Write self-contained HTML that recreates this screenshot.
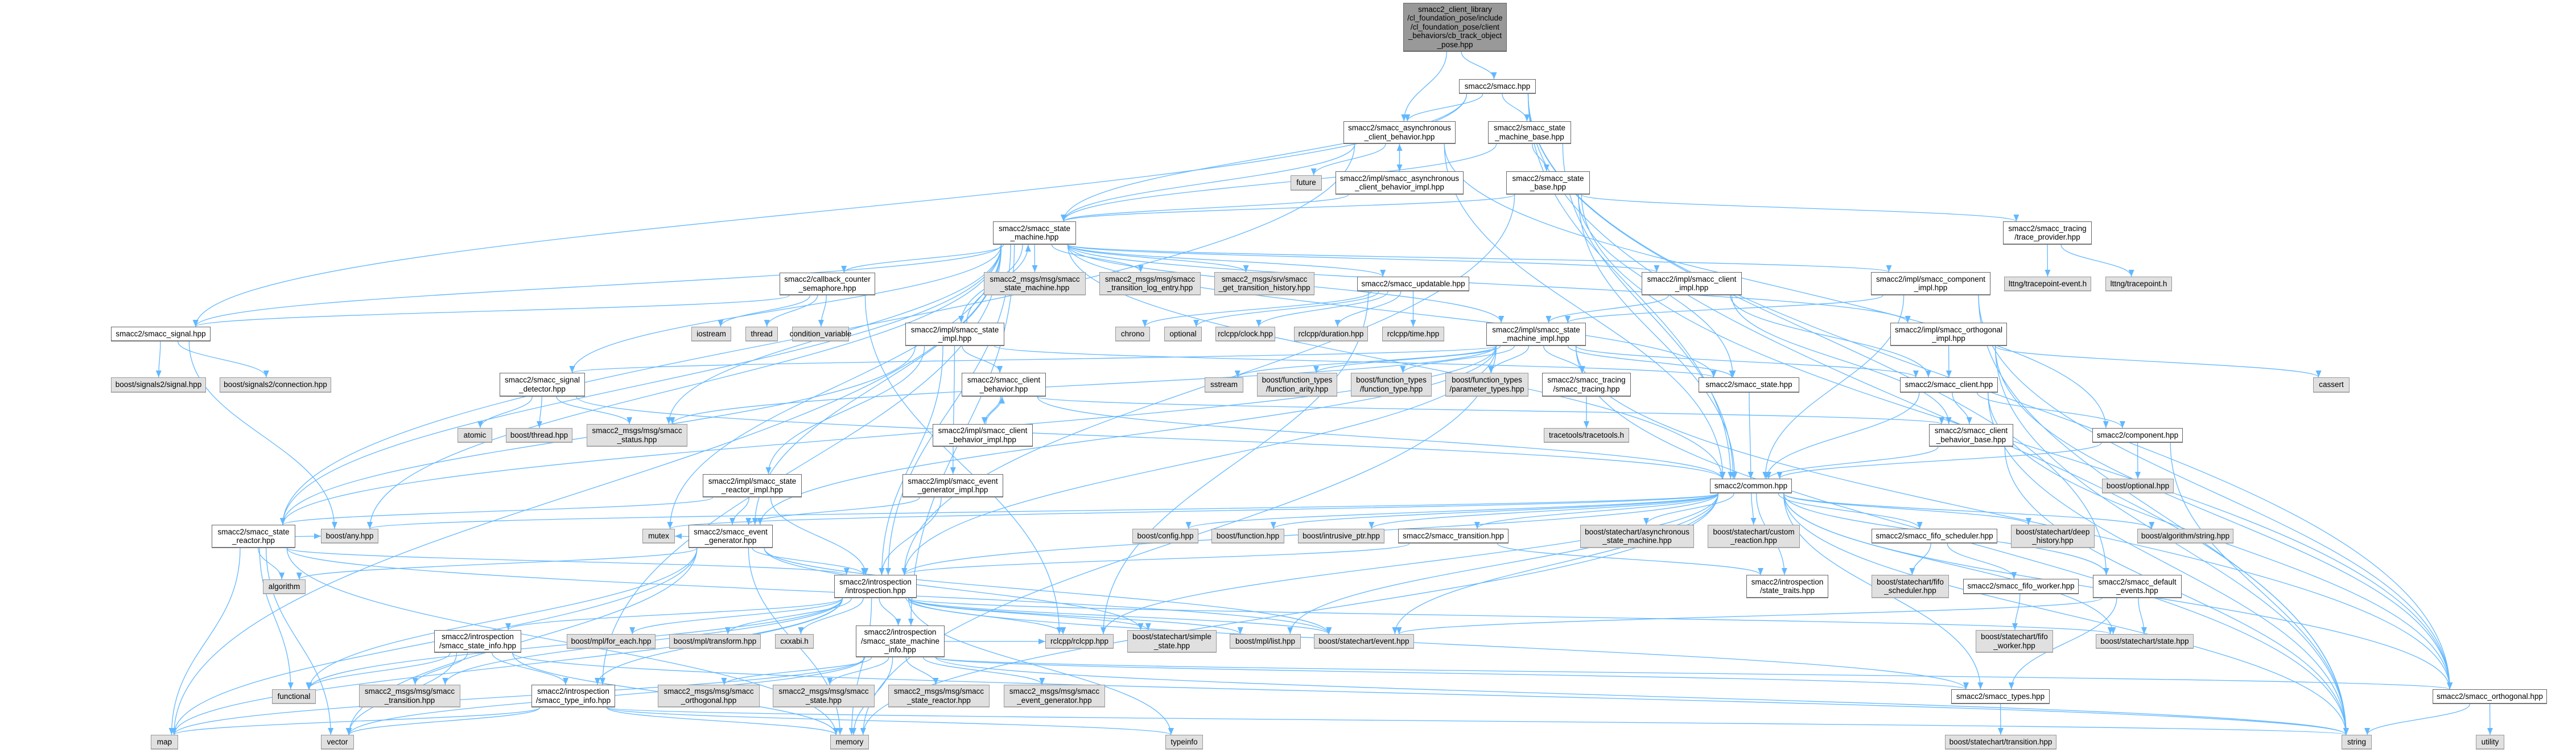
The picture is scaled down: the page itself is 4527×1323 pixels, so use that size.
<!DOCTYPE html>
<html><head><meta charset="utf-8"><style>
html,body{margin:0;padding:0;background:#fff;}
#c{position:relative;width:4527px;height:1323px;overflow:hidden;background:#fff;}
svg{position:absolute;left:0;top:0;}
.n{position:absolute;box-sizing:border-box;display:flex;align-items:center;justify-content:center;text-align:center;white-space:pre-line;font-family:"Liberation Sans Narrow","Liberation Sans",sans-serif;font-size:13.5px;line-height:15.5px;color:#000;background:#fff;border:1px solid #666;border-bottom:2px solid #777;z-index:2;}
.e{background:#e0e0e0;border-color:#999;border-bottom-color:#aaa;}
.t{background:#999;border-color:#666;}
</style></head><body><div id="c">
<svg id="s" width="4527" height="1323" viewBox="0 0 4527 1323"><defs><marker id="a" markerUnits="userSpaceOnUse" markerWidth="14" markerHeight="14" refX="12" refY="6" orient="auto"><path d="M0,1 L12,6 L0,11 z" fill="#63b8ff"/></marker></defs><g id="g" fill="none" stroke="#63b8ff" stroke-width="1.3"></g></svg>
<div class="n t" id="top" style="left:2466px;top:5px;width:182px;height:86px">smacc2_client_library
/cl_foundation_pose/include
/cl_foundation_pose/client
_behaviors/cb_track_object
_pose.hpp</div>
<div class="n" id="smacc" style="left:2564px;top:139px;width:135px;height:26px">smacc2/smacc.hpp</div>
<div class="n" id="async" style="left:2361px;top:213px;width:197px;height:40px">smacc2/smacc_asynchronous
_client_behavior.hpp</div>
<div class="n" id="smb" style="left:2615px;top:213px;width:146px;height:40px">smacc2/smacc_state
_machine_base.hpp</div>
<div class="n e" id="future" style="left:2268px;top:308px;width:55px;height:27px">future</div>
<div class="n" id="asyncimpl" style="left:2347px;top:301px;width:225px;height:41px">smacc2/impl/smacc_asynchronous
_client_behavior_impl.hpp</div>
<div class="n" id="sbase" style="left:2647px;top:301px;width:147px;height:41px">smacc2/smacc_state
_base.hpp</div>
<div class="n" id="sm" style="left:1745px;top:389px;width:146px;height:41px">smacc2/smacc_state
_machine.hpp</div>
<div class="n" id="tp" style="left:3520px;top:389px;width:156px;height:41px">smacc2/smacc_tracing
/trace_provider.hpp</div>
<div class="n" id="ccs" style="left:1370px;top:479px;width:168px;height:40px">smacc2/callback_counter
_semaphore.hpp</div>
<div class="n e" id="msm" style="left:1729px;top:478px;width:179px;height:41px">smacc2_msgs/msg/smacc
_state_machine.hpp</div>
<div class="n e" id="mtl" style="left:1932px;top:478px;width:178px;height:41px">smacc2_msgs/msg/smacc
_transition_log_entry.hpp</div>
<div class="n e" id="gth" style="left:2134px;top:478px;width:176px;height:41px">smacc2_msgs/srv/smacc
_get_transition_history.hpp</div>
<div class="n" id="upd" style="left:2385px;top:486px;width:197px;height:26px">smacc2/smacc_updatable.hpp</div>
<div class="n" id="cimpl" style="left:2885px;top:478px;width:176px;height:41px">smacc2/impl/smacc_client
_impl.hpp</div>
<div class="n" id="compimpl" style="left:3288px;top:478px;width:210px;height:41px">smacc2/impl/smacc_component
_impl.hpp</div>
<div class="n e" id="lte" style="left:3522px;top:486px;width:153px;height:26px">lttng/tracepoint-event.h</div>
<div class="n e" id="lt" style="left:3700px;top:486px;width:117px;height:26px">lttng/tracepoint.h</div>
<div class="n" id="sig" style="left:195px;top:574px;width:175px;height:26px">smacc2/smacc_signal.hpp</div>
<div class="n e" id="iostream" style="left:1215px;top:574px;width:70px;height:26px">iostream</div>
<div class="n e" id="thread" style="left:1310px;top:574px;width:57px;height:26px">thread</div>
<div class="n e" id="cv" style="left:1392px;top:574px;width:100px;height:26px">condition_variable</div>
<div class="n" id="simpl" style="left:1591px;top:567px;width:174px;height:41px">smacc2/impl/smacc_state
_impl.hpp</div>
<div class="n e" id="chrono" style="left:1960px;top:574px;width:61px;height:26px">chrono</div>
<div class="n e" id="optional" style="left:2046px;top:574px;width:66px;height:26px">optional</div>
<div class="n e" id="clock" style="left:2136px;top:574px;width:105px;height:26px">rclcpp/clock.hpp</div>
<div class="n e" id="duration" style="left:2274px;top:574px;width:130px;height:26px">rclcpp/duration.hpp</div>
<div class="n e" id="time" style="left:2429px;top:574px;width:109px;height:26px">rclcpp/time.hpp</div>
<div class="n" id="smimpl" style="left:2612px;top:567px;width:175px;height:41px">smacc2/impl/smacc_state
_machine_impl.hpp</div>
<div class="n" id="oimpl" style="left:3322px;top:567px;width:205px;height:41px">smacc2/impl/smacc_orthogonal
_impl.hpp</div>
<div class="n e" id="s2sig" style="left:195px;top:663px;width:167px;height:27px">boost/signals2/signal.hpp</div>
<div class="n e" id="s2con" style="left:386px;top:663px;width:196px;height:27px">boost/signals2/connection.hpp</div>
<div class="n" id="sd" style="left:878px;top:655px;width:150px;height:42px">smacc2/smacc_signal
_detector.hpp</div>
<div class="n" id="cb" style="left:1690px;top:655px;width:148px;height:42px">smacc2/smacc_client
_behavior.hpp</div>
<div class="n e" id="sstream" style="left:2117px;top:663px;width:68px;height:27px">sstream</div>
<div class="n e" id="farity" style="left:2209px;top:655px;width:141px;height:42px">boost/function_types
/function_arity.hpp</div>
<div class="n e" id="ftype" style="left:2374px;top:655px;width:142px;height:42px">boost/function_types
/function_type.hpp</div>
<div class="n e" id="ptypes" style="left:2540px;top:655px;width:146px;height:42px">boost/function_types
/parameter_types.hpp</div>
<div class="n" id="tracing" style="left:2710px;top:655px;width:156px;height:42px">smacc2/smacc_tracing
/smacc_tracing.hpp</div>
<div class="n" id="sstate" style="left:2985px;top:663px;width:177px;height:27px">smacc2/smacc_state.hpp</div>
<div class="n" id="client" style="left:3339px;top:663px;width:172px;height:27px">smacc2/smacc_client.hpp</div>
<div class="n e" id="cassert" style="left:4065px;top:663px;width:64px;height:27px">cassert</div>
<div class="n e" id="atomic" style="left:804px;top:752px;width:61px;height:26px">atomic</div>
<div class="n e" id="bthread" style="left:889px;top:752px;width:117px;height:26px">boost/thread.hpp</div>
<div class="n e" id="status" style="left:1031px;top:745px;width:177px;height:40px">smacc2_msgs/msg/smacc
_status.hpp</div>
<div class="n" id="cbimpl" style="left:1639px;top:745px;width:176px;height:40px">smacc2/impl/smacc_client
_behavior_impl.hpp</div>
<div class="n e" id="tt" style="left:2713px;top:752px;width:150px;height:26px">tracetools/tracetools.h</div>
<div class="n" id="cbb" style="left:3390px;top:745px;width:148px;height:40px">smacc2/smacc_client
_behavior_base.hpp</div>
<div class="n" id="comp" style="left:3677px;top:752px;width:159px;height:26px">smacc2/component.hpp</div>
<div class="n" id="srimpl" style="left:1235px;top:833px;width:174px;height:41px">smacc2/impl/smacc_state
_reactor_impl.hpp</div>
<div class="n" id="egimpl" style="left:1586px;top:833px;width:177px;height:41px">smacc2/impl/smacc_event
_generator_impl.hpp</div>
<div class="n" id="common" style="left:3005px;top:841px;width:144px;height:26px">smacc2/common.hpp</div>
<div class="n e" id="bopt" style="left:3694px;top:841px;width:126px;height:26px">boost/optional.hpp</div>
<div class="n" id="sr" style="left:372px;top:922px;width:147px;height:41px">smacc2/smacc_state
_reactor.hpp</div>
<div class="n e" id="bany" style="left:564px;top:929px;width:101px;height:26px">boost/any.hpp</div>
<div class="n e" id="mutex" style="left:1129px;top:929px;width:57px;height:26px">mutex</div>
<div class="n" id="eg" style="left:1210px;top:922px;width:148px;height:41px">smacc2/smacc_event
_generator.hpp</div>
<div class="n e" id="config" style="left:1990px;top:929px;width:116px;height:26px">boost/config.hpp</div>
<div class="n e" id="bfunc" style="left:2129px;top:929px;width:128px;height:26px">boost/function.hpp</div>
<div class="n e" id="iptr" style="left:2281px;top:929px;width:152px;height:26px">boost/intrusive_ptr.hpp</div>
<div class="n" id="trans" style="left:2457px;top:929px;width:194px;height:26px">smacc2/smacc_transition.hpp</div>
<div class="n e" id="asm" style="left:2777px;top:922px;width:200px;height:41px">boost/statechart/asynchronous
_state_machine.hpp</div>
<div class="n e" id="cr" style="left:3001px;top:922px;width:162px;height:41px">boost/statechart/custom
_reaction.hpp</div>
<div class="n" id="fifos" style="left:3289px;top:929px;width:221px;height:26px">smacc2/smacc_fifo_scheduler.hpp</div>
<div class="n e" id="deep" style="left:3534px;top:922px;width:147px;height:41px">boost/statechart/deep
_history.hpp</div>
<div class="n e" id="algstr" style="left:3756px;top:929px;width:169px;height:26px">boost/algorithm/string.hpp</div>
<div class="n e" id="alg" style="left:462px;top:1018px;width:75px;height:26px">algorithm</div>
<div class="n" id="intro" style="left:1466px;top:1010px;width:145px;height:41px">smacc2/introspection
/introspection.hpp</div>
<div class="n" id="st" style="left:3069px;top:1010px;width:144px;height:41px">smacc2/introspection
/state_traits.hpp</div>
<div class="n e" id="sfifos" style="left:3289px;top:1010px;width:136px;height:41px">boost/statechart/fifo
_scheduler.hpp</div>
<div class="n" id="fifow" style="left:3450px;top:1017px;width:203px;height:27px">smacc2/smacc_fifo_worker.hpp</div>
<div class="n" id="de" style="left:3678px;top:1010px;width:156px;height:41px">smacc2/smacc_default
_events.hpp</div>
<div class="n" id="si" style="left:763px;top:1107px;width:153px;height:40px">smacc2/introspection
/smacc_state_info.hpp</div>
<div class="n e" id="foreach" style="left:996px;top:1114px;width:156px;height:26px">boost/mpl/for_each.hpp</div>
<div class="n e" id="transform" style="left:1176px;top:1114px;width:161px;height:26px">boost/mpl/transform.hpp</div>
<div class="n e" id="cxxabi" style="left:1362px;top:1114px;width:68px;height:26px">cxxabi.h</div>
<div class="n" id="smi" style="left:1504px;top:1099px;width:156px;height:56px">smacc2/introspection
/smacc_state_machine
_info.hpp</div>
<div class="n e" id="rclcpp" style="left:1837px;top:1114px;width:120px;height:26px">rclcpp/rclcpp.hpp</div>
<div class="n e" id="simple" style="left:1981px;top:1107px;width:157px;height:40px">boost/statechart/simple
_state.hpp</div>
<div class="n e" id="mlist" style="left:2161px;top:1114px;width:125px;height:26px">boost/mpl/list.hpp</div>
<div class="n e" id="event" style="left:2309px;top:1114px;width:176px;height:26px">boost/statechart/event.hpp</div>
<div class="n e" id="sfifow" style="left:3472px;top:1107px;width:136px;height:40px">boost/statechart/fifo
_worker.hpp</div>
<div class="n e" id="sstatehpp" style="left:3683px;top:1114px;width:172px;height:26px">boost/statechart/state.hpp</div>
<div class="n e" id="func" style="left:478px;top:1211px;width:77px;height:26px">functional</div>
<div class="n e" id="mtrans" style="left:631px;top:1203px;width:178px;height:40px">smacc2_msgs/msg/smacc
_transition.hpp</div>
<div class="n" id="ti" style="left:934px;top:1203px;width:147px;height:40px">smacc2/introspection
/smacc_type_info.hpp</div>
<div class="n e" id="morth" style="left:1156px;top:1203px;width:179px;height:40px">smacc2_msgs/msg/smacc
_orthogonal.hpp</div>
<div class="n e" id="mstate" style="left:1358px;top:1203px;width:179px;height:40px">smacc2_msgs/msg/smacc
_state.hpp</div>
<div class="n e" id="msr" style="left:1561px;top:1203px;width:178px;height:40px">smacc2_msgs/msg/smacc
_state_reactor.hpp</div>
<div class="n e" id="meg" style="left:1764px;top:1203px;width:178px;height:40px">smacc2_msgs/msg/smacc
_event_generator.hpp</div>
<div class="n" id="types" style="left:3429px;top:1211px;width:173px;height:26px">smacc2/smacc_types.hpp</div>
<div class="n" id="orth" style="left:4275px;top:1211px;width:201px;height:26px">smacc2/smacc_orthogonal.hpp</div>
<div class="n e" id="map" style="left:265px;top:1291px;width:48px;height:26px">map</div>
<div class="n e" id="vector" style="left:564px;top:1291px;width:58px;height:26px">vector</div>
<div class="n e" id="memory" style="left:1459px;top:1291px;width:68px;height:26px">memory</div>
<div class="n e" id="typeinfo" style="left:2048px;top:1291px;width:66px;height:26px">typeinfo</div>
<div class="n e" id="strans" style="left:3418px;top:1291px;width:196px;height:26px">boost/statechart/transition.hpp</div>
<div class="n e" id="string" style="left:4115px;top:1291px;width:53px;height:26px">string</div>
<div class="n e" id="utility" style="left:4351px;top:1291px;width:50px;height:26px">utility</div>
</div>
<script>
var E={
top:"async smacc",
smacc:"async smb sm common orth de string sig",
async:"future asyncimpl sm common comp sr",
asyncimpl:"async sm",
smb:"sbase sm common",
sbase:"sm tp common sstate orth intro",
tp:"lte lt",
sm:"msm mtl gth upd ccs simpl cimpl compimpl oimpl smimpl sig sd sr bany map mutex common intro sstate status eg smi ti",
ccs:"iostream thread cv sig rclcpp",
upd:"chrono optional clock duration time rclcpp",
cimpl:"smimpl client cbb",
compimpl:"smimpl common string orth",
oimpl:"client cassert orth string",
simpl:"sm cb egimpl srimpl intro sr sstate",
smimpl:"sstream farity ftype ptypes tracing sd sstate client status intro memory string orth eg sr",
sig:"s2sig s2con bany",
sd:"atomic bthread status common",
cb:"cbimpl common cbb",
cbimpl:"cb",
tracing:"tt",
client:"cbb comp common string orth",
cbb:"common string",
comp:"common bopt string",
srimpl:"sr eg intro",
egimpl:"eg intro",
sr:"alg func map vector memory intro bany event",
eg:"intro alg func map vector mutex memory simple event",
common:"config bfunc iptr trans asm cr fifos deep algstr st de sstatehpp types orth string intro rclcpp bany mutex mlist event memory",
trans:"intro st",
fifos:"sfifos fifow",
fifow:"sfifow",
de:"sstatehpp types event",
intro:"foreach transform cxxabi si smi rclcpp simple mlist event ti mtrans func map memory typeinfo types sstatehpp",
si:"func vector ti memory mtrans string",
smi:"morth mstate msr meg memory map vector types orth string rclcpp",
ti:"map vector memory typeinfo string",
types:"strans",
orth:"utility string",
sstate:"common"
};
function R(id){var d=document.getElementById(id);return{x:d.offsetLeft,y:d.offsetTop,w:d.offsetWidth,h:d.offsetHeight};}
var g=document.getElementById('g'),ns='http://www.w3.org/2000/svg';
function cl(v,m){return Math.max(-m,Math.min(m,v));}
for(var a in E){E[a].split(' ').forEach(function(b){
var A=R(a),B=R(b);var acx=A.x+A.w/2,bcx=B.x+B.w/2,acy=A.y+A.h/2,bcy=B.y+B.h/2;var d;
if(Math.abs(acy-bcy)<12){var sx,ex;if(bcx>acx){sx=A.x+A.w;ex=B.x;}else{sx=A.x;ex=B.x+B.w;}
d='M'+sx+','+acy+' C'+(sx+ex)/2+','+acy+' '+(sx+ex)/2+','+bcy+' '+ex+','+bcy;}
else{var down=bcy>acy;var sx=acx+cl((bcx-acx)*0.15,A.w*0.4),ex=bcx+cl((acx-bcx)*0.08,B.w*0.35);
var sy=down?A.y+A.h:A.y,ey=down?B.y:B.y+B.h;var dy=ey-sy;
d='M'+sx+','+sy+' C'+sx+','+(sy+dy*0.45)+' '+ex+','+(ey-dy*0.45)+' '+ex+','+ey;}
var p=document.createElementNS(ns,'path');p.setAttribute('d',d);p.setAttribute('marker-end','url(#a)');g.appendChild(p);});}
</script>
</body></html>
